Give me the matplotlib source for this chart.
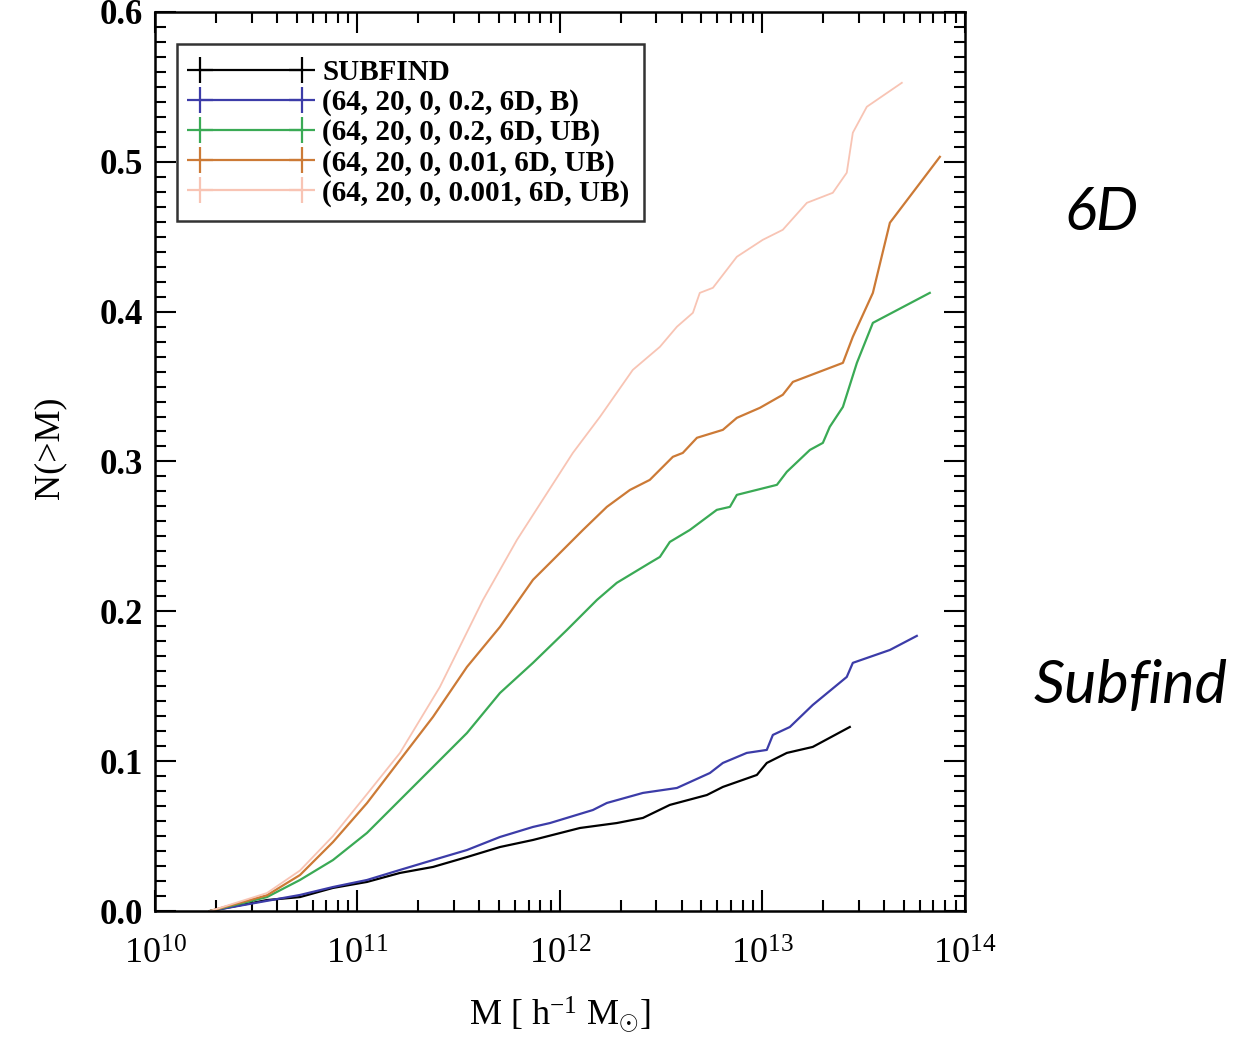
import numpy as np
import matplotlib
matplotlib.use("Agg")
import matplotlib.pyplot as plt
from matplotlib.lines import Line2D
from matplotlib.ticker import LogLocator, FixedLocator, MultipleLocator, FuncFormatter, NullFormatter

plt.rcParams['font.family'] = ['Liberation Serif', 'DejaVu Serif']
plt.rcParams['mathtext.fontset'] = 'custom'
plt.rcParams['mathtext.rm'] = 'Liberation Serif'
plt.rcParams['mathtext.it'] = 'Liberation Serif:italic'
plt.rcParams['mathtext.bf'] = 'Liberation Serif:bold'

# ---- data (log10 of mass in h^-1 Msun, cumulative fraction) ----
labels = ["SUBFIND",
          "(64, 20, 0, 0.2, 6D, B)",
          "(64, 20, 0, 0.2, 6D, UB)",
          "(64, 20, 0, 0.01, 6D, UB)",
          "(64, 20, 0, 0.001, 6D, UB)"]
colors = ["#000000", "#3c3ca8", "#3aaa55", "#cc7a36", "#f8c4b4"]

logm_subfind = [10.272, 10.553, 10.716, 10.879, 11.047, 11.210, 11.373, 11.541, 11.704,
                11.867, 12.099, 12.281, 12.410, 12.543, 12.726, 12.805, 12.973, 13.022,
                13.121, 13.249, 13.432]
n_subfind = [0.0, 0.0073, 0.0093, 0.0154, 0.0194, 0.0254, 0.0294, 0.0360, 0.0427,
             0.0474, 0.0554, 0.0587, 0.0621, 0.0708, 0.0774, 0.0828, 0.0908, 0.0988,
             0.1055, 0.1095, 0.1228]

logm_b02 = [10.272, 10.716, 10.879, 11.047, 11.210, 11.373, 11.541, 11.704, 11.867,
            11.951, 12.163, 12.232, 12.410, 12.578, 12.741, 12.805, 12.923, 13.022,
            13.052, 13.136, 13.249, 13.417, 13.447, 13.630, 13.763]
n_b02 = [0.0, 0.0107, 0.0160, 0.0207, 0.0274, 0.0340, 0.0407, 0.0494, 0.0561,
         0.0587, 0.0674, 0.0721, 0.0788, 0.0821, 0.0921, 0.0988, 0.1055, 0.1075,
         0.1175, 0.1228, 0.1375, 0.1562, 0.1656, 0.1742, 0.1836]

logm_ub02 = [10.272, 10.553, 10.716, 10.879, 11.047, 11.210, 11.373, 11.541, 11.704,
             11.867, 12.035, 12.183, 12.281, 12.444, 12.494, 12.543, 12.642, 12.775,
             12.840, 12.874, 13.072, 13.121, 13.235, 13.299, 13.333, 13.398, 13.467,
             13.546, 13.827]
n_ub02 = [0.0, 0.0093, 0.0207, 0.0340, 0.0521, 0.0741, 0.0961, 0.1188, 0.1455,
          0.1656, 0.1876, 0.2076, 0.2190, 0.2323, 0.2363, 0.2463, 0.2543, 0.2677,
          0.2697, 0.2777, 0.2844, 0.2931, 0.3077, 0.3124, 0.3231, 0.3364, 0.3658,
          0.3925, 0.4125]

logm_ub001 = [10.272, 10.553, 10.716, 10.879, 11.047, 11.210, 11.373, 11.541, 11.704,
              11.867, 11.951, 12.114, 12.232, 12.346, 12.444, 12.558, 12.607, 12.677,
              12.805, 12.874, 12.988, 13.101, 13.151, 13.398, 13.447, 13.546, 13.630,
              13.877]
n_ub001 = [0.0, 0.0105, 0.0240, 0.0460, 0.0720, 0.1008, 0.1295, 0.1629, 0.1896,
           0.2210, 0.2323, 0.2543, 0.2697, 0.2810, 0.2877, 0.3031, 0.3057, 0.3158,
           0.3211, 0.3291, 0.3358, 0.3445, 0.3531, 0.3658, 0.3832, 0.4125, 0.4593,
           0.5033]

logm_ub0001 = [10.272, 10.553, 10.716, 10.879, 11.047, 11.210, 11.407, 11.620, 11.788,
               12.064, 12.198, 12.360, 12.494, 12.578, 12.657, 12.691, 12.756, 12.874,
               13.002, 13.101, 13.220, 13.348, 13.417, 13.447, 13.516, 13.689]
n_ub0001 = [0.0, 0.0120, 0.0270, 0.0500, 0.0780, 0.1055, 0.1495, 0.2076, 0.2477,
            0.3057, 0.3298, 0.3611, 0.3765, 0.3899, 0.3992, 0.4125, 0.4159, 0.4366,
            0.4479, 0.4546, 0.4726, 0.4793, 0.4927, 0.5194, 0.5367, 0.5527]

series = [(logm_subfind, n_subfind), (logm_b02, n_b02), (logm_ub02, n_ub02),
          (logm_ub001, n_ub001), (logm_ub0001, n_ub0001)]
widths = [1.6, 1.6, 1.6, 1.6, 1.3]

fig = plt.figure(figsize=(12.42, 10.37), dpi=100)
ax = fig.add_axes([0.1248, 0.1215, 0.652, 0.867])

for (lm, n), c, lw in zip(series, colors, widths):
    ax.plot(10 ** np.array(lm), n, color=c, lw=lw)

ax.set_xscale('log')
ax.set_xlim(1e10, 1e14)
ax.set_ylim(0.0, 0.6)

ax.xaxis.set_major_locator(FixedLocator([1e10, 1e11, 1e12, 1e13, 1e14]))
ax.xaxis.set_minor_locator(LogLocator(base=10, subs=np.arange(2, 10), numticks=50))
ax.xaxis.set_minor_formatter(NullFormatter())
ax.xaxis.set_major_formatter(FuncFormatter(lambda v, p: r'$\mathregular{10^{%d}}$' % round(np.log10(v))))
ax.yaxis.set_major_locator(MultipleLocator(0.1))
ax.yaxis.set_minor_locator(MultipleLocator(0.01))
ax.yaxis.set_major_formatter(FuncFormatter(lambda v, p: '%.1f' % v))

ax.tick_params(which='both', direction='in', top=True, right=True, width=1.5, color='black')
ax.tick_params(which='major', length=15)
ax.tick_params(which='minor', length=8)
ax.tick_params(axis='x', which='major', pad=20, labelsize=26)
ax.tick_params(axis='y', which='major', pad=9, labelsize=25)
for lab in ax.get_yticklabels():
    lab.set_fontweight('bold')
for s in ax.spines.values():
    s.set_linewidth(1.8)

ax.set_ylabel('N(>M)', fontsize=26)
ax.yaxis.set_label_coords(-0.11, 0.515)
ax.set_xlabel(r'M [ h$^{\mathregular{-1}}$ M$_{\odot}$]', fontsize=26, labelpad=16)

handles = [Line2D([0], [0], color=c, lw=1.6, marker='+', markersize=19, markeredgewidth=1.6)
           for c in colors]
leg = ax.legend(handles, labels, loc='upper left', bbox_to_anchor=(0.027, 0.964),
                borderaxespad=0, numpoints=2, handlelength=4.1, fontsize=21,
                prop={'size': 21, 'weight': 'bold'},
                frameon=True, fancybox=False, edgecolor='black', labelspacing=0.1,
                handletextpad=0.38, borderpad=0.5)
leg.get_frame().set_linewidth(1.8)

fig.text(1101 / 1242, 1 - 213 / 1037, '6D', fontsize=43, family='Lato', style='italic',
         ha='center', va='center')
fig.text(1131 / 1242, 1 - 686 / 1037, 'Subfind', fontsize=44, family='Lato', style='italic',
         ha='center', va='center')

fig.savefig('out.png', dpi=100)
